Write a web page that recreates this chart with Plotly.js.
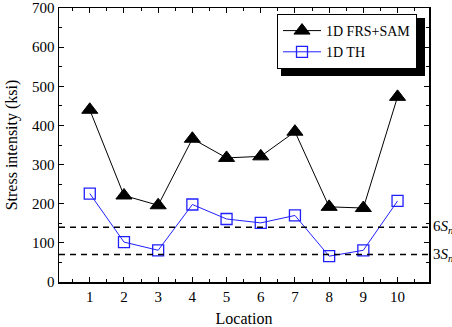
<!DOCTYPE html>
<html>
<head>
<meta charset="utf-8">
<script src="https://cdn.plot.ly/plotly-3.0.1.min.js"></script>
<style>html,body{margin:0;padding:0;background:#fff;}#chart{width:452px;height:327px;}</style>
</head>
<body>
<div id="chart"></div>
<script>
const locations = [1, 2, 3, 4, 5, 6, 7, 8, 9, 10];
const frsSam = [440, 221, 196, 366, 317, 321, 384, 192, 189, 473];
const th = [226, 102, 81, 198, 161, 151, 170, 66, 81, 207];
const limitLevels = [140, 70];
const limitLabels = ['6<i>S</i><sub><i>n</i></sub>', '3<i>S</i><sub><i>n</i></sub>'];
const seriesNames = ['1D FRS+SAM', '1D TH'];

const FONT = 'Liberation Serif';
const L = 59, R = 23, T = 8, B = 45, W = 452, H = 327;
const PW = W - L - R, PH = H - T - B;
const px2x = p => (p - L) / PW;
const px2y = p => 1 - (p - T) / PH;

const traces = [
  {
    x: locations, y: frsSam, name: seriesNames[0], type: 'scatter', mode: 'lines+markers',
    line: {color: '#000000', width: 1},
    marker: {symbol: 'triangle-up', size: 14, color: '#000000', line: {color: '#000000', width: 1}}
  },
  {
    x: locations, y: th, name: seriesNames[1], type: 'scatter', mode: 'lines+markers',
    line: {color: '#2020ff', width: 1},
    marker: {symbol: 'square-open', size: 11, color: '#2020ff', line: {color: '#2020ff', width: 1.3}}
  }
];

const shapes = limitLevels.map(v => ({
  type: 'line', xref: 'paper', yref: 'y', x0: 0, x1: 1, y0: v, y1: v,
  line: {color: '#000000', width: 1.5, dash: '6px,5px'}
}));
// legend drop shadow (offset 4px right/down from legend box)
shapes.push({
  type: 'rect', xref: 'paper', yref: 'paper', layer: 'above',
  x0: px2x(281), x1: px2x(425), y0: px2y(76), y1: px2y(18),
  fillcolor: '#000000', line: {width: 0}
});

const annotations = limitLevels.map((v, i) => ({
  xref: 'paper', yref: 'y', x: 1, y: v, xanchor: 'left', yanchor: 'middle', xshift: 2,
  text: limitLabels[i], showarrow: false, font: {family: FONT, size: 15, color: '#000'}
}));

const axisCommon = {
  showgrid: false, zeroline: false, showline: true, linecolor: '#000', linewidth: 1.5,
  mirror: 'allticks', ticks: 'inside', ticklen: 5, tickwidth: 1, tickcolor: '#000',
  tickfont: {family: FONT, size: 15, color: '#000'}
};

const layout = {
  width: W, height: H,
  margin: {l: L, r: R, t: T, b: B},
  paper_bgcolor: '#fff', plot_bgcolor: '#fff',
  font: {family: FONT, color: '#000'},
  showlegend: true,
  xaxis: Object.assign({}, axisCommon, {
    range: [0.1, 10.92], tickmode: 'array', tickvals: locations,
    minor: {dtick: 0.5, tick0: 0.5, ticks: 'inside', ticklen: 3, tickcolor: '#000'},
    title: {text: 'Location', font: {family: FONT, size: 16, color: '#000'}, standoff: 10}
  }),
  yaxis: Object.assign({}, axisCommon, {
    range: [0, 700], dtick: 100,
    minor: {dtick: 50, ticks: 'inside', ticklen: 3, tickcolor: '#000'},
    title: {text: 'Stress intensity (ksi)', font: {family: FONT, size: 16, color: '#000'}, standoff: 10}
  }),
  legend: {
    x: px2x(277), y: px2y(14), xanchor: 'left', yanchor: 'top',
    bgcolor: '#fff', bordercolor: '#000', borderwidth: 1,
    font: {family: FONT, size: 14, color: '#000'},
    tracegroupgap: 0, itemwidth: 38
  },
  shapes: shapes,
  annotations: annotations
};

Plotly.newPlot('chart', traces, layout, {displayModeBar: false, staticPlot: true});
</script>
</body>
</html>
